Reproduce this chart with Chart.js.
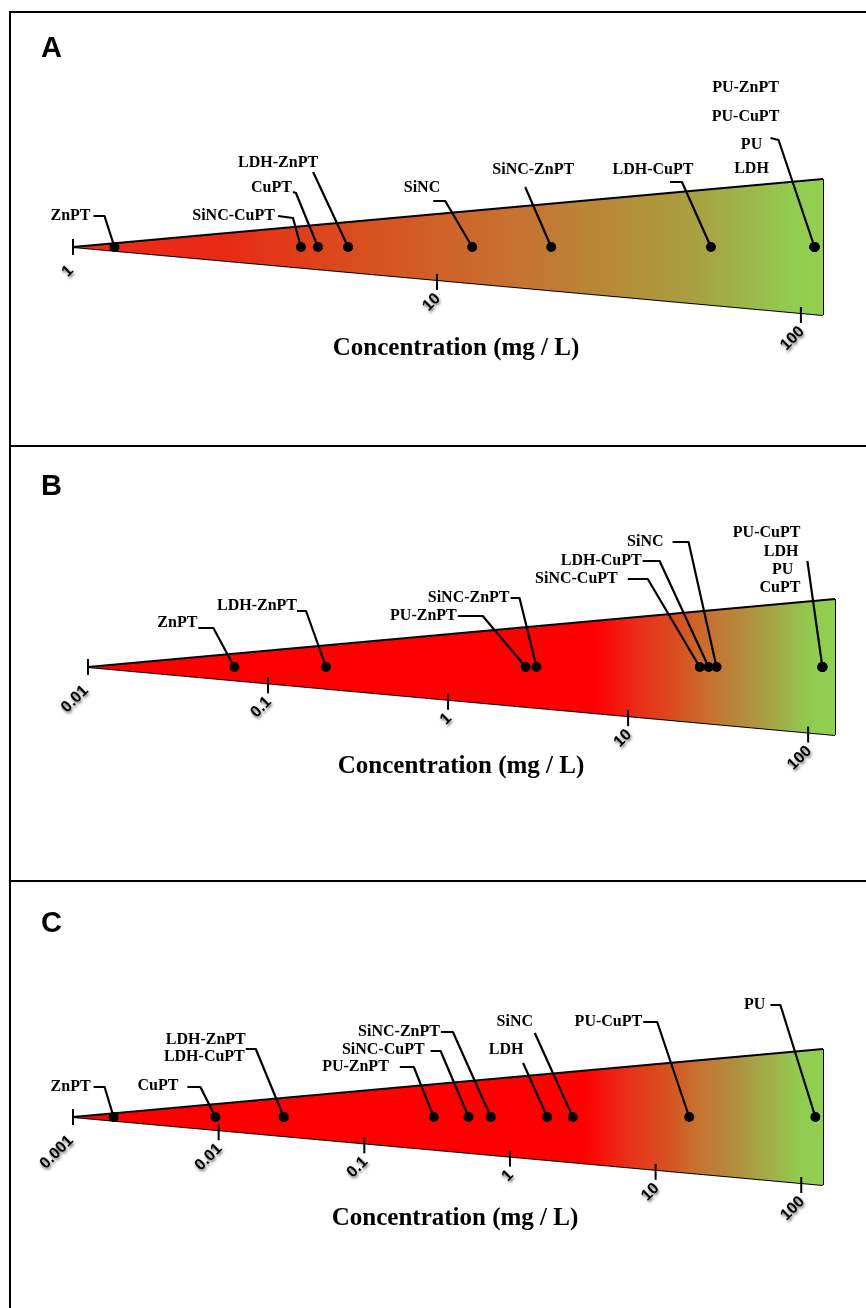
<!DOCTYPE html>
<html>
<head>
<meta charset="utf-8">
<script src="https://cdn.jsdelivr.net/npm/chart.js@4.4.1/dist/chart.umd.min.js"></script>
<style>
  html, body { margin: 0; padding: 0; background: #fff; }
  #page { position: relative; width: 866px; height: 1308px; overflow: hidden; }
  #page canvas { position: absolute; left: 0; }
  .rule { position: absolute; background: #000; }
</style>
</head>
<body>
<div id="page">
  <canvas id="chartA" width="866" height="446" style="top:0px"></canvas>
  <canvas id="chartB" width="866" height="436" style="top:446px"></canvas>
  <canvas id="chartC" width="866" height="426" style="top:882px"></canvas>
  <div class="rule" style="left:9px;top:11px;width:857px;height:2px"></div>
  <div class="rule" style="left:9px;top:445px;width:857px;height:2px"></div>
  <div class="rule" style="left:9px;top:880px;width:857px;height:2px"></div>
  <div class="rule" style="left:9px;top:11px;width:2px;height:1297px"></div>
</div>
<script>

/**
 * Data
 */

var namesA = ['ZnPT', 'SiNC-CuPT', 'CuPT', 'LDH-ZnPT', 'SiNC', 'SiNC-ZnPT', 'LDH-CuPT', 'PU-ZnPT', 'PU-CuPT', 'PU', 'LDH'];
var valuesA = [1.30, 4.23, 4.71, 5.70, 12.5, 20.6, 56.6, 109, 109, 109, 109];
var ticksA = [1, 10, 100];
var tickLabelsA = ['1', '10', '100'];
var rangeA = [1, 115];

var namesB = ['ZnPT', 'LDH-ZnPT', 'PU-ZnPT', 'SiNC-ZnPT', 'SiNC-CuPT', 'LDH-CuPT', 'SiNC', 'PU-CuPT', 'LDH', 'PU', 'CuPT'];
var valuesB = [0.065, 0.21, 2.7, 3.1, 25, 28, 31, 120, 120, 120, 120];
var ticksB = [0.01, 0.1, 1, 10, 100];
var tickLabelsB = ['0.01', '0.1', '1', '10', '100'];
var rangeB = [0.01, 141];

var namesC = ['ZnPT', 'CuPT', 'LDH-ZnPT', 'LDH-CuPT', 'PU-ZnPT', 'SiNC-CuPT', 'SiNC-ZnPT', 'LDH', 'SiNC', 'PU-CuPT', 'PU'];
var valuesC = [0.0019, 0.0095, 0.028, 0.028, 0.30, 0.52, 0.74, 1.8, 2.7, 17, 125];
var ticksC = [0.001, 0.01, 0.1, 1, 10, 100];
var tickLabelsC = ['0.001', '0.01', '0.1', '1', '10', '100'];
var rangeC = [0.001, 141];

var axisTitle = 'Concentration (mg / L)';

/**
 * Label placement (offsets from the point they point at)
 */

var calloutsA = [
    {name: 'ZnPT', dx: -24, dy: -31, align: 'right', path: [[-21, -31], [-10, -31]]},
    {name: 'SiNC-CuPT', dx: -26, dy: -31, align: 'right', path: [[-23, -31], [-8, -29]]},
    {name: 'CuPT', dx: -26, dy: -59, align: 'right', path: [[-25, -55], [-22, -54]]},
    {name: 'LDH-ZnPT', dx: -30, dy: -84, align: 'right', path: [[-35, -75]]},
    {name: 'SiNC', dx: -32, dy: -59, align: 'right', path: [[-39, -46], [-27, -46]]},
    {name: 'SiNC-ZnPT', dx: -18, dy: -77, align: 'center', path: [[-26, -60]]},
    {name: 'LDH-CuPT', dx: -58, dy: -77, align: 'center', path: [[-41, -65], [-29, -65]]},
    {name: 'PU-ZnPT', dx: -69, dy: -159, align: 'center'},
    {name: 'PU-CuPT', dx: -69, dy: -130, align: 'center'},
    {name: 'PU', dx: -63, dy: -102, align: 'center', path: [[-44, -109], [-36, -107]]},
    {name: 'LDH', dx: -63, dy: -78, align: 'center'}
];

var calloutsB = [
    {name: 'ZnPT', dx: -37, dy: -44, align: 'right', path: [[-36, -39], [-21, -39]]},
    {name: 'LDH-ZnPT', dx: -29, dy: -61, align: 'right', path: [[-29, -56], [-20, -56]]},
    {name: 'PU-ZnPT', dx: -69, dy: -51, align: 'right', path: [[-68, -51], [-43, -51]]},
    {name: 'SiNC-ZnPT', dx: -27, dy: -69, align: 'right', path: [[-26, -69], [-17, -69]]},
    {name: 'SiNC-CuPT', dx: -82, dy: -88, align: 'right', path: [[-72, -88], [-52, -88]]},
    {name: 'LDH-CuPT', dx: -67, dy: -106, align: 'right', path: [[-66, -106], [-49, -106]]},
    {name: 'SiNC', dx: -53, dy: -125, align: 'right', path: [[-44, -125], [-28, -125]]},
    {name: 'PU-CuPT', dx: -22, dy: -134, align: 'right'},
    {name: 'LDH', dx: -24, dy: -115, align: 'right', path: [[-15, -106]]},
    {name: 'PU', dx: -29, dy: -97, align: 'right'},
    {name: 'CuPT', dx: -22, dy: -79, align: 'right'}
];

var calloutsC = [
    {name: 'ZnPT', dx: -23, dy: -30, align: 'right', path: [[-20, -30], [-9, -30]]},
    {name: 'CuPT', dx: -37, dy: -31, align: 'right', path: [[-28, -30], [-15, -30]]},
    {name: 'LDH-ZnPT', dx: -38, dy: -77, align: 'right', path: [[-38, -68], [-28, -68]]},
    {name: 'LDH-CuPT', dx: -39, dy: -60, align: 'right'},
    {name: 'PU-ZnPT', dx: -45, dy: -50, align: 'right', path: [[-34, -50], [-20, -50]]},
    {name: 'SiNC-CuPT', dx: -44, dy: -67, align: 'right', path: [[-38, -66], [-28, -66]]},
    {name: 'SiNC-ZnPT', dx: -51, dy: -85, align: 'right', path: [[-50, -85], [-38, -85]]},
    {name: 'LDH', dx: -41, dy: -67, align: 'center', path: [[-24, -54]]},
    {name: 'SiNC', dx: -58, dy: -95, align: 'center', path: [[-38, -84]]},
    {name: 'PU-CuPT', dx: -47, dy: -95, align: 'right', path: [[-46, -95], [-32, -95]]},
    {name: 'PU', dx: -50, dy: -112, align: 'right', path: [[-45, -112], [-35, -112]]}
];

// gradient along the wedge (fraction of width, colour)
var stopsA = [[0, '#ee2a1c'], [0.2, '#e82a14'], [0.39, '#d85020'], [0.58, '#c87030'], [0.71, '#b88838'], [0.83, '#a8a040'], [0.96, '#92cc50'], [1, '#92d050']];
var stopsBC = [[0, '#ff0000'], [0.68, '#ff0000'], [0.74, '#e83018'], [0.79, '#d85020'], [0.83, '#c87030'], [0.885, '#b09040'], [0.93, '#a0b048'], [0.97, '#90cc50'], [1, '#92d050']];

/**
 * Wedge plugin: ticks along the lower edge, callouts, title, panel letter
 */

var wedgeDecor = {
    id: 'wedgeDecor',
    afterDatasetsDraw: function (chart) {
        var p = chart.options.plugins.wedgeDecor;
        var ctx = chart.ctx;
        var xs = chart.scales.x;
        var ys = chart.scales.y;

        ctx.save();
        ctx.strokeStyle = '#000';
        ctx.fillStyle = '#000';
        ctx.lineWidth = 2.2;
        ctx.lineJoin = 'round';
        ctx.lineCap = 'butt';

        // leader lines + labels
        ctx.font = 'bold 16px "Liberation Serif", "Times New Roman", serif';
        ctx.textBaseline = 'middle';
        p.callouts.forEach(function (c) {
            var i = p.names.indexOf(c.name);
            var px = xs.getPixelForValue(p.values[i]);
            var py = ys.getPixelForValue(0);
            if (c.path) {
                ctx.beginPath();
                ctx.moveTo(px + c.path[0][0], py + c.path[0][1]);
                for (var k = 1; k < c.path.length; k++) {
                    ctx.lineTo(px + c.path[k][0], py + c.path[k][1]);
                }
                ctx.lineTo(px, py);
                ctx.stroke();
            }
            ctx.textAlign = c.align;
            ctx.fillText(c.name, px + c.dx, py + c.dy);
        });

        // ticks on the lower edge
        ctx.lineWidth = 2;
        ctx.font = 'bold 16px "Liberation Sans", Arial, sans-serif';
        p.ticks.forEach(function (v, j) {
            var x = xs.getPixelForValue(v);
            var frac = (x - xs.left) / (xs.right - xs.left);
            var ey = ys.getPixelForValue(-frac);
            var apex = frac < 0.005;
            ctx.beginPath();
            if (apex) {
                ctx.moveTo(x, ey - 8);
                ctx.lineTo(x, ey + 8);
            } else {
                ctx.moveTo(x, ey - 6);
                ctx.lineTo(x, ey + 10);
            }
            ctx.stroke();

            ctx.save();
            if (apex) {
                ctx.translate(x - 2, ey + 21);
            } else {
                ctx.translate(x + 1, ey + 16);
            }
            ctx.rotate(-Math.PI / 4);
            ctx.shadowColor = 'rgba(0,0,0,0.6)';
            ctx.shadowBlur = 3;
            ctx.shadowOffsetX = 1;
            ctx.shadowOffsetY = 2;
            ctx.textAlign = 'right';
            ctx.textBaseline = 'middle';
            ctx.fillText(p.tickLabels[j], 0, 0);
            ctx.restore();
        });

        // axis title
        ctx.font = 'bold 25px "Liberation Serif", "Times New Roman", serif';
        ctx.textAlign = 'center';
        ctx.textBaseline = 'middle';
        ctx.fillText(axisTitle, p.titleX, p.titleY);

        // panel letter
        ctx.font = 'bold 29px "Liberation Sans", Arial, sans-serif';
        ctx.textAlign = 'left';
        ctx.textBaseline = 'alphabetic';
        ctx.fillText(p.letter, 41, p.letterY);

        ctx.restore();
    }
};

function makeWedge(id, cfg) {
    var canvas = document.getElementById(id);
    var H = canvas.height;
    var half = 68;
    var pts = cfg.values.map(function (v) { return {x: v, y: 0}; });
    var lo = cfg.range[0], hi = cfg.range[1];

    var fillFn = function (context) {
        var area = context.chart.chartArea;
        if (!area) return '#ff0000';
        var g = context.chart.ctx.createLinearGradient(area.left, 0, area.right, 0);
        cfg.stops.forEach(function (s) { g.addColorStop(s[0], s[1]); });
        return g;
    };

    return new Chart(canvas.getContext('2d'), {
        type: 'scatter',
        data: {
            datasets: [
                {data: pts, backgroundColor: '#000', borderWidth: 0, pointRadius: 5, order: 0},
                {type: 'line', data: [{x: lo, y: 0}, {x: hi, y: 1}], borderColor: '#000', borderWidth: 2,
                    pointRadius: 0, fill: '+1', backgroundColor: fillFn, clip: false, order: 1},
                {type: 'line', data: [{x: lo, y: 0}, {x: hi, y: -1}], borderColor: '#000', borderWidth: 2,
                    pointRadius: 0, fill: false, clip: false, order: 1},
                {type: 'line', data: [{x: hi, y: 1}, {x: hi, y: -1}], borderColor: '#000', borderWidth: 2,
                    pointRadius: 0, fill: false, clip: false, order: 1}
            ]
        },
        options: {
            responsive: false,
            animation: false,
            devicePixelRatio: 1,
            layout: {
                padding: {left: cfg.left, right: 866 - cfg.right, top: cfg.axisY - half, bottom: H - cfg.axisY - half}
            },
            scales: {
                x: {type: 'logarithmic', min: lo, max: hi, bounds: 'data', display: false},
                y: {type: 'linear', min: -1, max: 1, display: false}
            },
            plugins: {
                legend: {display: false},
                tooltip: {enabled: false},
                wedgeDecor: {
                    names: cfg.names, values: cfg.values, callouts: cfg.callouts,
                    ticks: cfg.ticks, tickLabels: cfg.tickLabels,
                    titleX: cfg.titleX, titleY: cfg.titleY, letter: cfg.letter, letterY: cfg.letterY
                }
            }
        },
        plugins: [wedgeDecor]
    });
}

makeWedge('chartA', {
    names: namesA, values: valuesA, ticks: ticksA, tickLabels: tickLabelsA, range: rangeA,
    callouts: calloutsA, stops: stopsA,
    left: 73, right: 823, axisY: 247, titleX: 456, titleY: 349, letter: 'A', letterY: 57
});

makeWedge('chartB', {
    names: namesB, values: valuesB, ticks: ticksB, tickLabels: tickLabelsB, range: rangeB,
    callouts: calloutsB, stops: stopsBC,
    left: 88, right: 835, axisY: 221, titleX: 461, titleY: 321, letter: 'B', letterY: 49
});

makeWedge('chartC', {
    names: namesC, values: valuesC, ticks: ticksC, tickLabels: tickLabelsC, range: rangeC,
    callouts: calloutsC, stops: stopsBC,
    left: 73, right: 823, axisY: 235, titleX: 455, titleY: 337, letter: 'C', letterY: 50
});

</script>
</body>
</html>
